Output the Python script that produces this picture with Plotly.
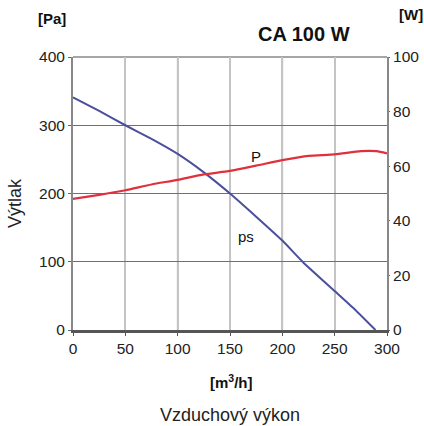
import plotly.graph_objects as go

# Air flow [m3/h] and static pressure ps [Pa]
ps_flow = [0, 25, 50, 75, 100, 125, 150, 175, 200, 220, 250, 270, 289]
ps_pa = [341, 321, 300, 280, 258, 231, 200, 166, 131, 99, 57, 29, 0]

# Air flow [m3/h] and power P [W]
p_flow = [0, 25, 50, 75, 100, 125, 150, 175, 200, 225, 250, 275, 290, 300]
p_w = [48, 49.5, 51.2, 53.3, 55, 57, 58.3, 60.2, 62.2, 63.8, 64.3, 65.5, 65.5, 64.7]

x_ticks = [0, 50, 100, 150, 200, 250, 300]
dark_grid_x = [100, 200]

FONT = "Arial, Liberation Sans, sans-serif"

fig = go.Figure()
fig.add_trace(go.Scatter(x=ps_flow, y=ps_pa, mode="lines", line=dict(color="#4b4f9c", width=2, shape="spline", smoothing=0.4),
                         hoverinfo="skip", showlegend=False))
fig.add_trace(go.Scatter(x=p_flow, y=p_w, mode="lines", yaxis="y2", line=dict(color="#e0303e", width=2.2, shape="spline", smoothing=0.6),
                         hoverinfo="skip", showlegend=False))

shapes = [dict(type="line", xref="x", yref="paper", x0=v, x1=v, y0=0, y1=1, layer="below",
               line=dict(color="#777777", width=1.5)) for v in dark_grid_x]
shapes.append(dict(type="line", xref="paper", yref="paper", x0=0, x1=1, y0=1, y1=1, layer="below",
                   line=dict(color="#888888", width=1.5)))

fig.update_layout(
    width=424, height=426,
    margin=dict(l=73, r=37, t=57, b=96, autoexpand=False),
    paper_bgcolor="white", plot_bgcolor="white",
    font=dict(family=FONT, size=15, color="#222222"),
    shapes=shapes,
    xaxis=dict(range=[0, 300], tickvals=x_ticks, showgrid=True, gridcolor="#c4c4c4", gridwidth=1.5,
               showline=True, linecolor="#555555", linewidth=2.5, ticks="outside", ticklen=3,
               tickcolor="#555555", zeroline=False, tickfont=dict(size=15.5)),
    yaxis=dict(range=[0, 400], dtick=100, showgrid=True, gridcolor="#707070", gridwidth=1,
               showline=True, linecolor="#888888", linewidth=2, ticks="outside", ticklen=3,
               tickcolor="#666666", zeroline=False, tickfont=dict(size=15.5)),
    yaxis2=dict(range=[0, 100], dtick=20, overlaying="y", side="right", showgrid=False,
                showline=True, linecolor="#888888", linewidth=2, ticks="outside", ticklen=1,
                tickcolor="#666666", zeroline=False, tickfont=dict(size=15.5)),
    annotations=[
        dict(text="<b>CA 100 W</b>", xref="paper", yref="paper", x=0.735, y=1.085, xanchor="center",
             yanchor="middle", showarrow=False, font=dict(size=20, color="#111111")),
        dict(text="<b>[Pa]</b>", xref="paper", yref="paper", x=-0.067, y=1.14, xanchor="center",
             yanchor="middle", showarrow=False, font=dict(size=15, color="#111111")),
        dict(text="<b>[W]</b>", xref="paper", yref="paper", x=1.075, y=1.155, xanchor="center",
             yanchor="middle", showarrow=False, font=dict(size=15, color="#111111")),
        dict(text="<b>[m<sup>3</sup>/h]</b>", xref="paper", yref="paper", x=0.505, y=-0.19,
             xanchor="center", yanchor="middle", showarrow=False, font=dict(size=15, color="#111111")),
        dict(text="Vzduchový výkon", xref="paper", yref="paper", x=0.5, y=-0.31,
             xanchor="center", yanchor="middle", showarrow=False, font=dict(size=18, color="#222222")),
        dict(text="Výtlak", xref="paper", yref="paper", x=-0.185, y=0.465, textangle=-90,
             xanchor="center", yanchor="middle", showarrow=False, font=dict(size=18, color="#222222")),
        dict(text="P", x=175, y=254, xref="x", yref="y", showarrow=False, font=dict(size=15, color="#111111")),
        dict(text="ps", x=165, y=137, xref="x", yref="y", showarrow=False, font=dict(size=15, color="#111111")),
    ],
)

fig.write_html("out.html", config={"displayModeBar": False},
               post_script="document.body.style.margin='0';document.body.style.overflow='hidden';")
